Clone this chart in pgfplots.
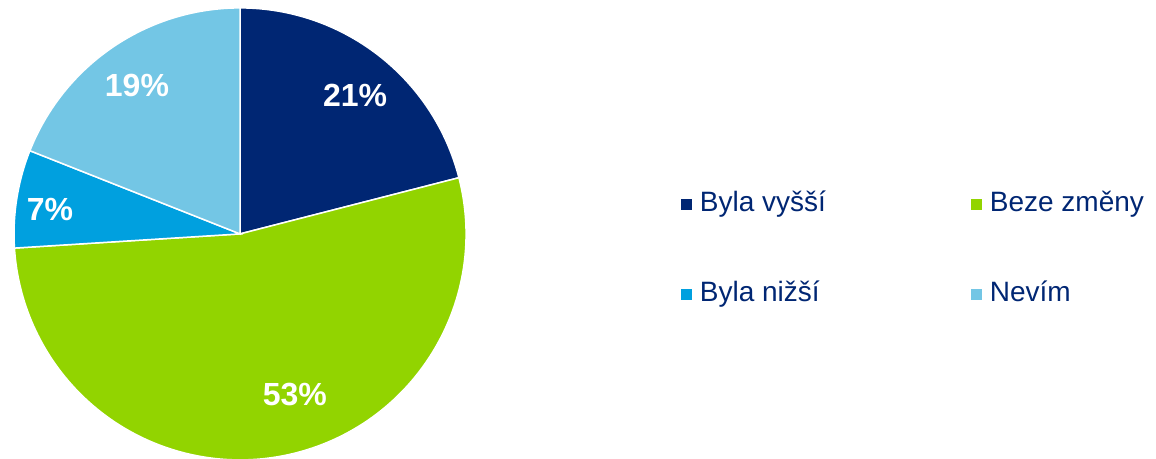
\documentclass[border=0pt]{standalone}
\usepackage{pgfplots}
\usepackage{pgfplotstable}
\pgfplotsset{compat=1.18}
\usepackage{fontspec}
\setmainfont{Liberation Sans}
\definecolor{cA}{RGB}{0,38,115}
\definecolor{cB}{RGB}{146,212,0}
\definecolor{cC}{RGB}{0,160,223}
\definecolor{cD}{RGB}{115,198,229}
\definecolor{legtext}{RGB}{0,38,115}

\pgfplotstableread{
value lx ly
21 0.509 0.611
53 0.243 -0.712
7 -0.841 0.106
19 -0.456 0.655
}\piedata

\begin{document}
\begin{tikzpicture}
\pgfplotstablegetelem{0}{value}\of\piedata \pgfmathtruncatemacro\va{\pgfplotsretval}
\pgfplotstablegetelem{1}{value}\of\piedata \pgfmathtruncatemacro\vb{\pgfplotsretval}
\pgfplotstablegetelem{2}{value}\of\piedata \pgfmathtruncatemacro\vc{\pgfplotsretval}
\pgfplotstablegetelem{3}{value}\of\piedata \pgfmathtruncatemacro\vd{\pgfplotsretval}
\pgfplotstablegetelem{0}{lx}\of\piedata \edef\lxa{\pgfplotsretval}
\pgfplotstablegetelem{0}{ly}\of\piedata \edef\lya{\pgfplotsretval}
\pgfplotstablegetelem{1}{lx}\of\piedata \edef\lxb{\pgfplotsretval}
\pgfplotstablegetelem{1}{ly}\of\piedata \edef\lyb{\pgfplotsretval}
\pgfplotstablegetelem{2}{lx}\of\piedata \edef\lxc{\pgfplotsretval}
\pgfplotstablegetelem{2}{ly}\of\piedata \edef\lyc{\pgfplotsretval}
\pgfplotstablegetelem{3}{lx}\of\piedata \edef\lxd{\pgfplotsretval}
\pgfplotstablegetelem{3}{ly}\of\piedata \edef\lyd{\pgfplotsretval}
\pgfmathsetmacro\aA{90}
\pgfmathsetmacro\aB{\aA-3.6*\va}
\pgfmathsetmacro\aC{\aB-3.6*\vb}
\pgfmathsetmacro\aD{\aC-3.6*\vc}
\pgfmathsetmacro\aE{\aD-3.6*\vd}
\begin{axis}[
  hide axis, scale only axis, clip=false,
  x=113pt, y=113pt,
  xmin=-1.062, xmax=4.053, ymin=-0.9956, ymax=1.035,
  legend columns=2,
  legend image code/.code={\fill[#1, draw=none] (0pt,-2.75pt) rectangle (5.5pt,2.75pt);},
  legend style={at={(0.589,0.582)}, anchor=north west, draw=none, fill=none,
    inner sep=0pt, outer sep=0pt, row sep=32pt, column sep=4pt,
    font=\fontsize{14}{16}\selectfont, text=legtext,
    nodes={inner sep=0pt, text height=10pt, text depth=3pt},
    /tikz/every even column/.append style={column sep=72.5pt}},
  legend cell align=left,
]
\filldraw[fill=cA, draw=white, line width=0.75pt] (axis cs:0,0) -- (axis cs:{cos(\aA)},{sin(\aA)}) arc[start angle=\aA, end angle=\aB, radius=113pt] -- cycle;
\filldraw[fill=cB, draw=white, line width=0.75pt] (axis cs:0,0) -- (axis cs:{cos(\aB)},{sin(\aB)}) arc[start angle=\aB, end angle=\aC, radius=113pt] -- cycle;
\filldraw[fill=cC, draw=white, line width=0.75pt] (axis cs:0,0) -- (axis cs:{cos(\aC)},{sin(\aC)}) arc[start angle=\aC, end angle=\aD, radius=113pt] -- cycle;
\filldraw[fill=cD, draw=white, line width=0.75pt] (axis cs:0,0) -- (axis cs:{cos(\aD)},{sin(\aD)}) arc[start angle=\aD, end angle=\aE, radius=113pt] -- cycle;
\node[text=white, font=\bfseries\fontsize{16}{19}\selectfont] at (axis cs:\lxa,\lya) {\va\%};
\node[text=white, font=\bfseries\fontsize{16}{19}\selectfont] at (axis cs:\lxb,\lyb) {\vb\%};
\node[text=white, font=\bfseries\fontsize{16}{19}\selectfont] at (axis cs:\lxc,\lyc) {\vc\%};
\node[text=white, font=\bfseries\fontsize{16}{19}\selectfont] at (axis cs:\lxd,\lyd) {\vd\%};
\addlegendimage{fill=cA, draw=none}
\addlegendimage{fill=cB, draw=none}
\addlegendimage{fill=cC, draw=none}
\addlegendimage{fill=cD, draw=none}
\legend{Byla vyšší, Beze změny, Byla nižší, Nevím}
\coordinate (BL) at (axis cs:-1.062,-0.9956);
\coordinate (TR) at (axis cs:4.053,1.035);
\end{axis}
\pgfresetboundingbox
\path (BL) rectangle (TR);
\end{tikzpicture}
\end{document}
